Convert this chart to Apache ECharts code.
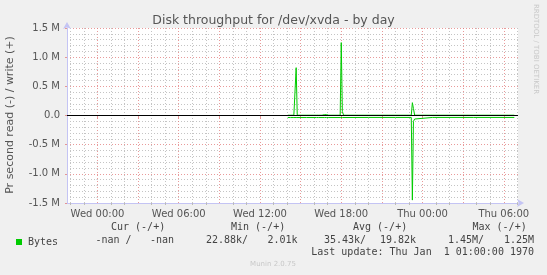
<!DOCTYPE html>
<html><head><meta charset="utf-8">
<script src="https://cdn.jsdelivr.net/npm/echarts@6/dist/echarts.min.js"></script>
<style>html,body{margin:0;padding:0;background:#f0f0f0}#c{width:547px;height:275px}</style>
</head><body><div id="c"></div>
<script>
// hours relative to Wed 00:00
const hours  = [14.05,14.17,14.25,14.50,14.58,14.67,14.75,15.25,15.33,15.42,16.17,16.25,16.33,16.58,16.67,16.75,16.83,16.92,17.00,17.08,17.92,18.00,18.08,18.17,20.00,22.00,23.17,23.25,23.33,23.42,23.50,24.75,24.83,24.92,27.58,27.67,27.75,30.78];
// write (+), in M bytes/s
const writeM = [0.005,0.03,0.005,0.005,0.005,0.82,0.005,0.005,0.02,0.005,0.005,0.02,0.005,0.005,0.025,0.015,0.025,0.015,0.025,0.005,0.005,1.25,0.07,0.005,0.005,0.005,0.005,0.22,0.12,0.005,0.005,0.005,0.005,0.005,0.005,0.03,0.005,0.005];
// read (-), in M bytes/s (plotted negative)
const readM  = [0.035,0.035,0.035,0.035,0.035,0.035,0.035,0.035,0.035,0.035,0.035,0.035,0.035,0.035,0.035,0.035,0.035,0.035,0.035,0.035,0.035,0.035,0.035,0.035,0.033,0.033,0.033,1.45,0.10,0.06,0.033,0.033,0.06,0.033,0.033,0.055,0.033,0.033];
const xLabelHours = [0,6,12,18,24,30];
const xLabels = ['Wed 00:00','Wed 06:00','Wed 12:00','Wed 18:00','Thu 00:00','Thu 06:00'];
const majorGridHours = [0,3,6,9,12,15,18,21,24,27,30];
const minorGridHours = [-2,-1,1,2,4,5,7,8,10,11,13,14,16,17,19,20,22,23,25,26,28,29,31];
const minorGridM = [-1.4,-1.3,-1.2,-1.1,-0.9,-0.8,-0.7,-0.6,-0.4,-0.3,-0.2,-0.1,0.1,0.2,0.3,0.4,0.6,0.7,0.8,0.9,1.1,1.2,1.3,1.4];
const yMin = -1.5, yMax = 1.5, yStep = 0.5;

const chart = echarts.init(document.getElementById('c'));
const FONT = 'DejaVu Sans';
const MONO = 'DejaVu Sans Mono';
const xMin = -2.25, xMax = 31.05;
const axisCol = '#c4c4f4';
const redGrid = 'rgba(225,120,120,0.75)';
const grayGrid = '#c4c4c4';

chart.setOption({
  backgroundColor: '#f0f0f0',
  animation: false,
  title: {
    text: 'Disk throughput for /dev/xvda - by day',
    left: 'center', top: 9,
    textStyle: {fontFamily: FONT, fontSize: 12.5, fontWeight: 'normal', color: '#555'}
  },
  legend: {
    data: ['Bytes'], left: 11, top: 232, icon: 'rect', itemWidth: 6, itemHeight: 6, itemGap: 4,
    textStyle: {fontFamily: MONO, fontSize: 10, color: '#444', padding: [0,0,0,1]},
    selectedMode: false
  },
  grid: {left: 67, right: 29, top: 28, bottom: 72, show: true, backgroundColor: '#fff', borderWidth: 0},
  xAxis: [
    {
      type: 'value', min: xMin, max: xMax, position: 'bottom',
      axisLine: {show: true, onZero: false, lineStyle: {color: axisCol, width: 1}, symbol: ['none','arrow'], symbolSize: [6,7], symbolOffset: [0,6]},
      axisTick: {show: true, customValues: minorGridHours, length: 2, lineStyle: {color: '#bbb'}},
      axisLabel: {show: false},
      splitLine: {show: true, lineStyle: {color: grayGrid, type: [1,2], width: 1}}
    },
    {
      type: 'value', min: xMin, max: xMax, position: 'bottom',
      axisLine: {show: false},
      axisTick: {show: true, customValues: majorGridHours, length: 3, lineStyle: {color: redGrid}},
      axisLabel: {
        show: true, customValues: xLabelHours, margin: 6,
        fontFamily: FONT, fontSize: 10, color: '#555',
        formatter: v => xLabels[xLabelHours.indexOf(Math.round(v))] || ''
      },
      splitLine: {show: true, lineStyle: {color: redGrid, type: [1,2], width: 1}}
    }
  ],
  yAxis: [
    {
      type: 'value', min: yMin, max: yMax, position: 'left',
      axisLine: {show: false},
      axisTick: {show: true, customValues: minorGridM, length: 1, lineStyle: {color: '#ccc'}},
      axisLabel: {show: false},
      splitLine: {show: true, lineStyle: {color: grayGrid, type: [1,2], width: 1}}
    },
    {
      type: 'value', min: yMin, max: yMax, interval: yStep, position: 'left',
      axisLine: {show: true, onZero: false, lineStyle: {color: axisCol}, symbol: ['none','arrow'], symbolSize: [6,7], symbolOffset: [0,6]},
      axisTick: {show: true, length: 2, lineStyle: {color: redGrid}},
      axisLabel: {
        fontFamily: FONT, fontSize: 10, color: '#555', margin: 7,
        formatter: v => Math.abs(v) < 1e-9 ? '0.0' : v.toFixed(1) + ' M'
      },
      splitLine: {show: true, lineStyle: {color: redGrid, type: [1,2]}}
    }
  ],
  series: [
    {
      name: 'Bytes', type: 'line', xAxisIndex: 0, yAxisIndex: 1, showSymbol: false, symbol: 'none',
      lineStyle: {color: '#00cc00', width: 1}, itemStyle: {color: '#00cc00'},
      data: hours.map((h, i) => [h, -readM[i]]), z: 3
    },
    {
      name: 'Bytes', type: 'line', xAxisIndex: 0, yAxisIndex: 1, showSymbol: false, symbol: 'none',
      lineStyle: {color: '#00cc00', width: 1}, itemStyle: {color: '#00cc00'},
      data: hours.map((h, i) => [h, writeM[i]]), z: 3,
      markLine: {
        silent: true, symbol: 'none', label: {show: false},
        lineStyle: {color: '#000', type: 'solid', width: 1},
        data: [{yAxis: 0}], z: 4
      }
    }
  ],
  graphic: [
    {type: 'text', x: 10, y: 115, rotation: Math.PI / 2,
     style: {text: 'Pr second read (-) / write (+)', fontFamily: FONT, fontSize: 11, fill: '#555', textAlign: 'center', textVerticalAlign: 'middle'}},
    {type: 'text', x: 536, y: 49, rotation: -Math.PI / 2,
     style: {text: 'RRDTOOL / TOBI OETIKER', fontFamily: FONT, fontSize: 7, fill: '#c8c8c8', textAlign: 'center', textVerticalAlign: 'middle'}},
    {type: 'text', x: 111, y: 227, style: {text: 'Cur (-/+)', fontFamily: MONO, fontSize: 10, fill: '#444', textVerticalAlign: 'middle'}},
    {type: 'text', x: 231, y: 227, style: {text: 'Min (-/+)', fontFamily: MONO, fontSize: 10, fill: '#444', textVerticalAlign: 'middle'}},
    {type: 'text', x: 353, y: 227, style: {text: 'Avg (-/+)', fontFamily: MONO, fontSize: 10, fill: '#444', textVerticalAlign: 'middle'}},
    {type: 'text', x: 472.5, y: 227, style: {text: 'Max (-/+)', fontFamily: MONO, fontSize: 10, fill: '#444', textVerticalAlign: 'middle'}},
    {type: 'text', x: 95.5, y: 240, style: {text: '-nan /', fontFamily: MONO, fontSize: 10, fill: '#444', textVerticalAlign: 'middle'}},
    {type: 'text', x: 174, y: 240, style: {text: '-nan', fontFamily: MONO, fontSize: 10, fill: '#444', textAlign: 'right', textVerticalAlign: 'middle'}},
    {type: 'text', x: 206, y: 240, style: {text: '22.88k/', fontFamily: MONO, fontSize: 10, fill: '#444', textVerticalAlign: 'middle'}},
    {type: 'text', x: 297.5, y: 240, style: {text: '2.01k', fontFamily: MONO, fontSize: 10, fill: '#444', textAlign: 'right', textVerticalAlign: 'middle'}},
    {type: 'text', x: 324, y: 240, style: {text: '35.43k/', fontFamily: MONO, fontSize: 10, fill: '#444', textVerticalAlign: 'middle'}},
    {type: 'text', x: 416, y: 240, style: {text: '19.82k', fontFamily: MONO, fontSize: 10, fill: '#444', textAlign: 'right', textVerticalAlign: 'middle'}},
    {type: 'text', x: 448, y: 240, style: {text: '1.45M/', fontFamily: MONO, fontSize: 10, fill: '#444', textVerticalAlign: 'middle'}},
    {type: 'text', x: 534, y: 240, style: {text: '1.25M', fontFamily: MONO, fontSize: 10, fill: '#444', textAlign: 'right', textVerticalAlign: 'middle'}},
    {type: 'text', x: 534, y: 252, style: {text: 'Last update: Thu Jan  1 01:00:00 1970', fontFamily: MONO, fontSize: 10, fill: '#444', textAlign: 'right', textVerticalAlign: 'middle'}},
    {type: 'text', x: 273, y: 264, style: {text: 'Munin 2.0.75', fontFamily: FONT, fontSize: 7, fill: '#c8c8c8', textAlign: 'center', textVerticalAlign: 'middle'}}
  ]
});
</script>
</body></html>
